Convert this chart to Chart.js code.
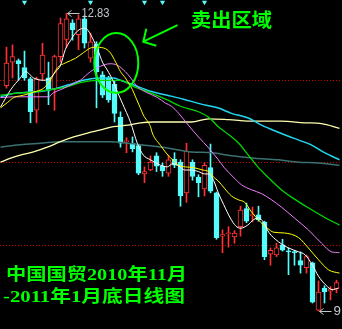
<!DOCTYPE html>
<html>
<head>
<meta charset="utf-8">
<script src="https://cdn.jsdelivr.net/npm/chart.js@4.4.0/dist/chart.umd.min.js"></script>
<style>
  html, body { margin: 0; padding: 0; background: #000; overflow: hidden; }
  #wrap { width: 342px; height: 329px; position: relative; }
</style>
</head>
<body>
<div id="wrap"><canvas id="kline"></canvas></div>
<script>
// daily candles, 2010-11 .. 2011-01 (price, yuan)
const opens = [11.91,12.21,12.23,12.14,12.00,11.60,12.06,12.01,11.87,12.28,
  12.50,12.71,12.56,12.76,12.26,12.44,12.05,12.01,11.93,11.51,
  11.20,11.18,11.15,10.79,10.84,11.02,10.89,10.80,10.98,10.94,
  10.55,10.94,10.75,10.60,10.87,10.55,10.00,10.03,9.99,10.12,
  10.35,10.26,10.27,10.18,9.77,9.76,9.89,9.81,9.80,9.69,
  9.60,9.66,9.06,9.34,9.30,9.33];
const closes = [12.20,12.28,12.19,12.01,11.58,12.00,12.30,11.86,12.28,12.70,
  12.76,12.62,12.76,12.45,12.47,12.09,11.79,11.73,11.56,11.18,
  11.21,11.11,10.80,10.82,10.94,10.89,10.83,10.97,10.90,10.51,
  11.08,10.76,10.68,10.90,10.57,9.98,10.02,10.04,10.04,10.33,
  10.19,10.27,10.21,9.74,9.82,9.85,9.82,9.80,9.79,9.63,
  9.74,9.16,9.29,9.29,9.33,9.41];
const highs = [12.40,12.43,12.25,12.35,12.02,12.02,12.45,12.21,12.30,12.77,
  12.83,12.75,12.81,12.80,12.58,12.47,12.09,12.03,11.98,11.58,
  11.25,11.26,11.16,10.88,11.02,11.06,10.93,11.03,11.06,10.97,
  11.18,10.97,10.78,10.93,11.17,10.56,10.08,10.12,10.07,10.38,
  10.42,10.37,10.38,10.19,9.85,9.91,9.96,9.85,9.82,9.80,
  9.76,9.67,9.43,9.37,9.36,9.44];
const lows = [11.88,12.01,11.98,11.98,11.44,11.44,11.98,11.67,11.60,12.21,
  12.40,12.49,12.37,12.39,12.21,11.63,11.76,11.70,11.45,11.13,
  11.06,11.07,10.78,10.68,10.83,10.82,10.76,10.76,10.87,10.38,
  10.43,10.71,10.50,10.51,10.55,9.96,9.79,9.86,9.91,10.00,
  10.17,10.18,10.19,9.70,9.63,9.74,9.81,9.51,9.63,9.53,
  9.53,9.15,9.05,9.15,9.19,9.28];

// moving averages: [candle index, price]
const ma5 = [[-1,11.64],[0.7,11.86],[2.3,12.01],[3.2,12.09],[4.5,12.01],[6.2,11.98],[7.3,12.01],[8.2,12.09],[9,12.17],[9.8,12.37],[10.7,12.49],[11.5,12.58],[12.3,12.63],[13.2,12.64],[13.8,12.59],[14.5,12.49],[15.2,12.37],[16,12.21],[16.8,12.11],[17.7,11.98],[18.5,11.83],[19.3,11.69],[20.7,11.44],[21.8,11.18],[22.8,11.03],[24,10.97],[25.7,10.90],[26.8,10.88],[27.7,10.92],[28.7,10.89],[29.7,10.84],[30.7,10.84],[32,10.82],[33,10.79],[33.7,10.79],[34.5,10.71],[35.3,10.55],[36.2,10.40],[37.3,10.23],[38.2,10.13],[39,10.10],[40.2,10.14],[41.2,10.21],[42,10.23],[42.8,10.18],[43.7,10.05],[45.3,9.93],[47,9.85],[48.7,9.80],[49.8,9.76],[51,9.63],[52,9.49],[53.2,9.38],[54.3,9.32],[55.3,9.34]];
const ma10 = [[-1,11.63],[0.2,11.70],[1.2,11.76],[2.8,11.79],[4.5,11.83],[6.2,11.88],[7.3,11.98],[8.5,12.14],[9.8,12.20],[11.5,12.26],[12.8,12.33],[14,12.39],[14.8,12.40],[16.2,12.39],[17.3,12.33],[18.2,12.21],[19,12.09],[19.8,12.01],[21,11.86],[21.5,11.77],[22.3,11.63],[22.8,11.54],[24,11.39],[24.3,11.31],[25.7,11.15],[27,11.02],[27.7,10.97],[28.7,10.90],[29.8,10.88],[31.2,10.87],[32.7,10.84],[33.7,10.82],[34.5,10.75],[35.3,10.70],[36.3,10.61],[37.5,10.51],[38.7,10.46],[39.7,10.43],[40.8,10.31],[42.3,10.18],[43.5,10.10],[44.5,10.05],[46.3,10.04],[48.7,9.98],[50.3,9.85],[52,9.70],[53.7,9.57],[55.5,9.53]];
const ma20 = [[-1,11.76],[1.2,11.77],[4.5,11.77],[7,11.77],[7.8,11.82],[9,11.86],[10.7,11.92],[12.3,11.98],[14,12.09],[15.7,12.16],[17.3,12.19],[18.5,12.17],[19.8,12.09],[20.7,12.01],[21.8,11.90],[23.5,11.82],[25.2,11.76],[26.5,11.69],[27.5,11.65],[28.7,11.56],[30.3,11.41],[32,11.26],[33.7,11.12],[35.3,10.97],[36.3,10.87],[37.8,10.75],[39.2,10.65],[40.8,10.59],[42.5,10.54],[44.2,10.46],[45.8,10.37],[48,10.23],[50.3,10.08],[52.5,9.91],[54.2,9.80],[55.5,9.79]];
const ma30 = [[-1,11.79],[2.3,11.82],[4.5,11.83],[7.3,11.86],[10.2,11.90],[12.3,11.95],[15.2,11.98],[17.3,11.98],[19,11.98],[21.2,11.90],[24,11.82],[26.8,11.73],[29,11.65],[32,11.58],[33.7,11.51],[35.3,11.39],[37,11.29],[38.7,11.18],[40.3,11.03],[42,10.87],[43.7,10.74],[45.8,10.59],[48,10.47],[50.3,10.36],[53.2,10.23],[55.5,10.14]];
const ma60 = [[-1,11.77],[1.8,11.82],[4.5,11.83],[7.3,11.86],[10.2,11.92],[12.8,11.98],[15.7,12.01],[17.8,12.01],[19,11.98],[21.2,11.92],[24,11.84],[26.8,11.79],[29.5,11.74],[32.3,11.68],[35.2,11.63],[37.5,11.56],[40.3,11.50],[42.5,11.41],[45.3,11.32],[48.7,11.22],[50.8,11.16],[53,11.06],[55.5,10.97]];
const ma120 = [[-1,10.94],[0.7,10.99],[2.3,11.03],[4.5,11.07],[6.8,11.13],[9,11.20],[11.2,11.26],[13.5,11.31],[15.7,11.35],[17.8,11.39],[20.2,11.41],[22.3,11.44],[24.5,11.45],[27.5,11.45],[30.8,11.45],[33.7,11.49],[37,11.48],[41.3,11.46],[45.8,11.46],[49.7,11.44],[52.5,11.43],[55.5,11.37]];
const ma250 = [[-1,11.13],[2.3,11.16],[5.7,11.18],[9,11.20],[17.3,11.20],[20.2,11.18],[23.5,11.15],[26.8,11.12],[30.8,11.07],[34.2,11.06],[37.5,11.02],[41.3,10.99],[45.3,10.97],[48.7,10.94],[52,10.93],[55.5,10.90]];

const signalDays = [3, 14, 23, 26, 33];   // small cyan markers along the top
const gridPrices = [11.98, 10.93, 9.88];
const highIdx = 10, lowIdx = 52;
const caption = ['中国国贸2010年11月', '-2011年1月底日线图'];

const RED = '#ff3232', CYAN = '#54fcfc', GREEN = '#00ff00', GRAY = '#c4c8cc';
const days = opens.map((_, i) => i);
const up = days.map(i => closes[i] >= opens[i]);

function maLine(pts, color, width) {
  return {
    type: 'line',
    data: pts.map(([x, y]) => ({ x, y })),
    borderColor: color,
    borderWidth: width || 1,
    pointRadius: 0,
    cubicInterpolationMode: 'monotone',
    order: 0
  };
}

function fitText(ctx, str, x, y, w, font, color) {
  ctx.save();
  ctx.font = font;
  ctx.fillStyle = color;
  ctx.textBaseline = 'middle';
  ctx.textAlign = 'left';
  const m = ctx.measureText(str).width;
  ctx.translate(x, y);
  ctx.scale(w / m, 1);
  ctx.fillText(str, 0, 0);
  ctx.restore();
}

const overlay = {
  id: 'overlay',
  afterDatasetsDraw(chart) {
    const { ctx } = chart;
    const xs = chart.scales.x, ys = chart.scales.y;
    ctx.save();
    ctx.strokeStyle = GREEN;
    ctx.lineWidth = 2;
    // ring round the sell zone
    ctx.beginPath();
    ctx.ellipse(xs.getPixelForValue(18.3), ys.getPixelForValue(12.2), 22, 30, 0, 0, Math.PI * 2);
    ctx.stroke();
    // arrow pointing at it
    const ax = xs.getPixelForValue(28.5), ay = ys.getPixelForValue(12.68);
    const bx = xs.getPixelForValue(22.8), by = ys.getPixelForValue(12.47);
    ctx.beginPath();
    ctx.moveTo(ax, ay); ctx.lineTo(bx, by);
    ctx.moveTo(bx + 3, by - 13); ctx.lineTo(bx, by); ctx.lineTo(bx + 13, by + 4);
    ctx.stroke();

    fitText(ctx, '卖出区域', 191, 20, 81, 'bold 19px "Noto Sans CJK SC"', GREEN);
    const capFont = 'bold 17px "Liberation Serif", "Noto Sans CJK SC"';
    fitText(ctx, caption[0], 6, 275.5, 181, capFont, GREEN);
    fitText(ctx, caption[1], 3, 297.5, 182, capFont, GREEN);

    // high / low markers
    ctx.strokeStyle = GRAY;
    ctx.lineWidth = 1;
    const tag = (i, v, txt, tw) => {
      const tx = Math.round(xs.getPixelForValue(i)) + 1.5, ty = Math.round(ys.getPixelForValue(v)) + 0.5;
      ctx.beginPath();
      ctx.moveTo(tx, ty); ctx.lineTo(tx + 12, ty);
      ctx.moveTo(tx + 4, ty - 3); ctx.lineTo(tx, ty); ctx.lineTo(tx + 4, ty + 3);
      ctx.stroke();
      fitText(ctx, txt, tx + 14, ty, tw, '13px "Liberation Sans"', GRAY);
    };
    tag(highIdx, highs[highIdx], highs[highIdx].toFixed(2), 28);
    tag(lowIdx, lows[lowIdx], lows[lowIdx].toFixed(2), 26);
    ctx.restore();
  }
};

new Chart(document.getElementById('kline'), {
  type: 'bar',
  data: {
    datasets: [
      maLine(ma5, '#ffffff'),
      maLine(ma10, '#ffff00'),
      maLine(ma20, '#f080ff'),
      maLine(ma30, '#00d800', 1.3),
      maLine(ma60, '#20d8f0', 1.5),
      maLine(ma120, '#ffffb0', 1.3),
      maLine(ma250, '#3a7272', 1.5),
      {
        type: 'line',
        data: signalDays.map(i => ({ x: i, y: 12.97 })),
        showLine: false,
        pointStyle: 'triangle',
        rotation: 180,
        pointRadius: 3,
        backgroundColor: CYAN,
        borderColor: CYAN,
        borderWidth: 0,
        clip: false,
        order: 0
      },
      {
        data: days.map(i => ({ x: i, y: [opens[i], closes[i]] })),
        backgroundColor: up.map(u => u ? '#000' : CYAN),
        borderColor: up.map(u => u ? RED : CYAN),
        borderWidth: 1,
        borderSkipped: false,
        barThickness: 5,
        minBarLength: 1,
        grouped: false,
        order: 1
      },
      {
        data: days.map(i => ({ x: i, y: [lows[i], highs[i]] })),
        backgroundColor: up.map(u => u ? RED : CYAN),
        borderWidth: 0,
        barThickness: 1,
        grouped: false,
        order: 2
      }
    ]
  },
  options: {
    responsive: true,
    maintainAspectRatio: false,
    animation: false,
    layout: { padding: 0, autoPadding: false },
    plugins: { legend: { display: false }, tooltip: { enabled: false } },
    scales: {
      x: { type: 'linear', min: -1.0833, max: 55.9167, offset: false, display: false },
      y: {
        min: 8.82, max: 13.0,
        ticks: { display: false },
        afterBuildTicks: s => { s.ticks = gridPrices.map(v => ({ value: v })); },
        grid: { color: '#c80000', lineWidth: 1, drawTicks: false },
        border: { display: false, dash: [1, 2] }
      }
    }
  },
  plugins: [overlay]
});
</script>
</body>
</html>
